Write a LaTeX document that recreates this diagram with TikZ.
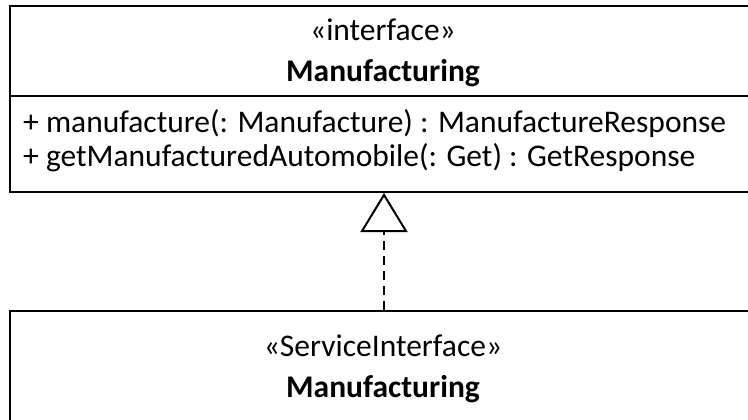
\documentclass[tikz,border=0pt]{standalone}
\usepackage{fontspec}
\setmainfont{Carlito}
\usetikzlibrary{positioning,arrows.meta}

\tikzset{
  classbox/.style={draw, line width=2pt, minimum width=748pt, inner sep=0pt},
  txt/.style={inner sep=0pt, anchor=base, font=\fontsize{31.5}{36}\selectfont},
  realize/.style={line width=2pt, dash pattern=on 9pt off 6pt,
    -{Triangle[open, length=39pt, width=47pt]}},
}

\begin{document}
\begin{tikzpicture}[x=1pt, y=-1pt]
\useasboundingbox (0,0) rectangle (748,420);
\clip (0,0) rectangle (748,420);

\node[classbox, minimum height=186pt, anchor=north west] (iface) at (9,5) {};
\node[classbox, minimum height=160pt, anchor=north west] (svc) at (9,310) {};
\draw[line width=2pt] (iface.west |- 0,96) -- (iface.east |- 0,96);

\node[txt] (st1) at (383,41) {«interface»};
\node[txt, font=\fontsize{31.5}{36}\selectfont\bfseries, below=41pt of st1.base, anchor=base] (nm1) {Manufacturing};
\node[txt, anchor=base west] (op1) at (23,132) {+ manufacture(: Manufacture) : ManufactureResponse};
\node[txt, below=35pt of op1.base west, anchor=base west] (op2) {+ getManufacturedAutomobile(: Get) : GetResponse};

\node[txt] (st2) at (383,356) {«ServiceInterface»};
\node[txt, font=\fontsize{31.5}{36}\selectfont\bfseries, below=41pt of st2.base, anchor=base] (nm2) {Manufacturing};

\draw[realize] (svc.north) -- (iface.south);
\end{tikzpicture}
\end{document}
